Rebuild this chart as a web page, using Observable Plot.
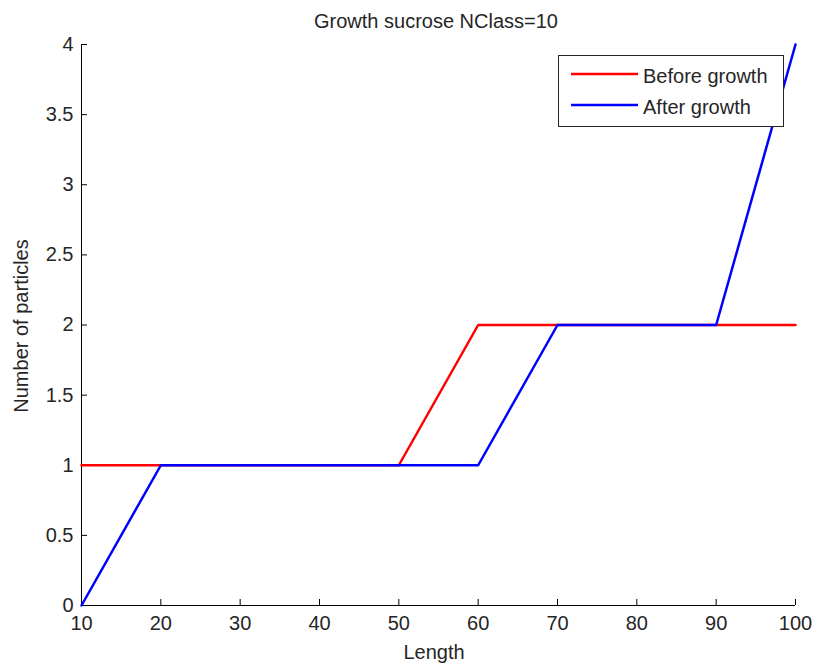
<!DOCTYPE html>
<html>
<head>
<meta charset="utf-8">
<script src="https://cdn.jsdelivr.net/npm/d3@7"></script>
<script src="https://cdn.jsdelivr.net/npm/@observablehq/plot@0.6"></script>
<style>
  body { margin: 0; background: #fff; }
  #chart svg { display: block; }
</style>
</head>
<body>
<div id="chart"></div>
<script>
// Particle size distribution before and after growth
const lengths = [10, 20, 30, 40, 50, 60, 70, 80, 90, 100];
const beforeGrowth = [1, 1, 1, 1, 1, 2, 2, 2, 2, 2];
const afterGrowth = [0, 1, 1, 1, 1, 1, 2, 2, 2, 4];
const xTicks = [10, 20, 30, 40, 50, 60, 70, 80, 90, 100];
const yTicks = [0, 0.5, 1, 1.5, 2, 2.5, 3, 3.5, 4];
const seriesNames = ["Before growth", "After growth"];
const seriesColors = ["#ff0000", "#0000ff"];

const before = lengths.map((x, i) => ({x, y: beforeGrowth[i]}));
const after = lengths.map((x, i) => ({x, y: afterGrowth[i]}));

const font = "Liberation Sans, Arial, sans-serif";
const fs = 20;
const ink = "#262626";

const plot = Plot.plot({
  width: 816,
  height: 667,
  marginLeft: 81,
  marginRight: 21,
  marginTop: 44,
  marginBottom: 62,
  style: {fontFamily: font, fontSize: fs + "px", color: ink, background: "#fff"},
  x: {domain: [10, 100]},
  y: {domain: [0, 4]},
  marks: [
    Plot.axisX({ticks: xTicks, tickSize: -6, tickPadding: 16, tickFormat: d => String(d), label: null, stroke: "#000"}),
    Plot.axisY({ticks: yTicks, tickSize: -6, tickPadding: 14, tickFormat: d => String(d), label: null, stroke: "#000"}),
    Plot.ruleY([0], {stroke: "#000", strokeWidth: 1}),
    Plot.ruleX([10], {stroke: "#000", strokeWidth: 1}),
    Plot.line(before, {x: "x", y: "y", stroke: seriesColors[0], strokeWidth: 2.5}),
    Plot.line(after, {x: "x", y: "y", stroke: seriesColors[1], strokeWidth: 2.5})
  ]
});

const svg = d3.select(plot);

function label(sel) {
  return sel.attr("font-family", font).attr("font-size", fs).attr("fill", ink);
}

// Title and axis labels
label(svg.append("text"))
  .attr("x", 436).attr("y", 28)
  .attr("text-anchor", "middle")
  .text("Growth sucrose NClass=10");

label(svg.append("text"))
  .attr("x", 434).attr("y", 659)
  .attr("text-anchor", "middle")
  .text("Length");

label(svg.append("text"))
  .attr("transform", "translate(28,326) rotate(-90)")
  .attr("text-anchor", "middle")
  .text("Number of particles");

// Legend box
const lg = svg.append("g");
lg.append("rect")
  .attr("x", 558.5).attr("y", 55.5).attr("width", 225).attr("height", 71)
  .attr("fill", "#fff").attr("stroke", ink).attr("stroke-width", 1);
seriesNames.forEach((name, i) => {
  const y = 74 + i * 31;
  lg.append("line")
    .attr("x1", 571).attr("x2", 638).attr("y1", y).attr("y2", y)
    .attr("stroke", seriesColors[i]).attr("stroke-width", 2.5);
  label(lg.append("text"))
    .attr("x", 643).attr("y", y + 9)
    .attr("text-anchor", "start")
    .text(name);
});

document.getElementById("chart").appendChild(plot);
</script>
</body>
</html>
